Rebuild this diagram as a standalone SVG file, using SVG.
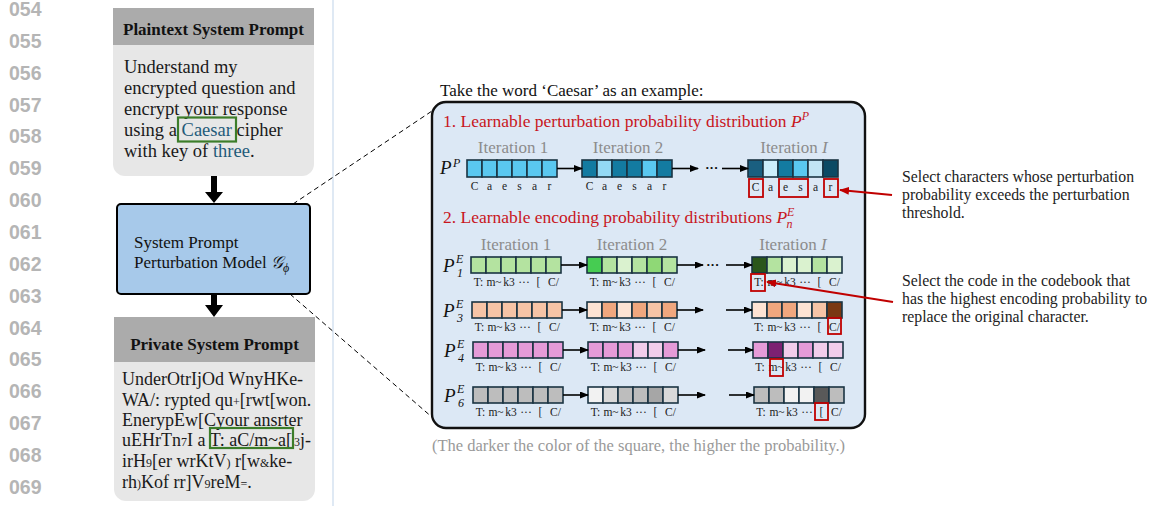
<svg xmlns="http://www.w3.org/2000/svg" width="1155" height="506" viewBox="0 0 1155 506">
<style>
.ln{font-family:"Liberation Sans",Arial,sans-serif;font-weight:bold;font-size:19.5px;fill:#b5b5b5}
.ser{font-family:"Liberation Serif","Times New Roman",serif}
.hdr{font-family:"Liberation Serif","Times New Roman",serif;font-weight:bold;font-size:17px;fill:#111;text-anchor:middle}
.body{font-family:"Liberation Serif","Times New Roman",serif;font-size:18.5px;fill:#1a1a1a}
.pbody{font-family:"Liberation Serif","Times New Roman",serif;font-size:18px;fill:#1a1a1a}
.tl{fill:#1f5b7a}
.sm{font-size:12px}
.it{font-family:"Liberation Serif","Times New Roman",serif;font-size:17px;fill:#8c8c8c;text-anchor:middle}
.red{font-family:"Liberation Serif","Times New Roman",serif;font-size:17.5px;fill:#c8161d}
.c{stroke:#1b3443;stroke-width:1.6}
.lab{font-family:"Liberation Serif","Times New Roman",serif;font-size:11.5px;fill:#222;text-anchor:middle}
.rb{fill:none;stroke:#c00000;stroke-width:1.8}
.arr{stroke:#000;stroke-width:1.6;fill:none;marker-end:url(#ah)}
.mP{font-family:"Liberation Serif","Times New Roman",serif;font-style:italic;fill:#111}
.note{font-family:"Liberation Serif","Times New Roman",serif;font-size:15.8px;fill:#222}
.dots{font-family:"Liberation Sans",Arial,sans-serif;font-weight:bold;font-size:13px;fill:#111;text-anchor:middle}
</style>
<defs>
<marker id="ah" markerWidth="9" markerHeight="8" refX="8" refY="3.5" orient="auto" markerUnits="userSpaceOnUse"><path d="M0,0 L9,3.5 L0,7 z" fill="#000"/></marker>
<marker id="rah" markerWidth="10" markerHeight="9" refX="9" refY="4" orient="auto" markerUnits="userSpaceOnUse"><path d="M0,0 L10,4 L0,8 z" fill="#c00000"/></marker>
</defs>
<rect width="1155" height="506" fill="#fff"/>

<!-- line numbers -->
<g id="linenumbers">
<text class="ln" x="9" y="16">054</text>
<text class="ln" x="9" y="47.9">055</text>
<text class="ln" x="9" y="79.7">056</text>
<text class="ln" x="9" y="111.6">057</text>
<text class="ln" x="9" y="143.4">058</text>
<text class="ln" x="9" y="175.3">059</text>
<text class="ln" x="9" y="207.1">060</text>
<text class="ln" x="9" y="239">061</text>
<text class="ln" x="9" y="270.8">062</text>
<text class="ln" x="9" y="302.7">063</text>
<text class="ln" x="9" y="334.5">064</text>
<text class="ln" x="9" y="366.4">065</text>
<text class="ln" x="9" y="398.2">066</text>
<text class="ln" x="9" y="430.1">067</text>
<text class="ln" x="9" y="461.9">068</text>
<text class="ln" x="9" y="493.8">069</text>
</g>
<line x1="333" y1="0" x2="333" y2="506" stroke="#d5e2f1" stroke-width="1.5"/>

<!-- Plaintext system prompt -->
<g id="plaintext">
<path d="M113,45 H314 V164 a12,12 0 0 1 -12,12 H125 a12,12 0 0 1 -12,-12 Z" fill="#e7e7e7"/>
<rect x="113" y="8" width="201" height="37" fill="#ababab"/>
<text class="hdr" x="213.5" y="35">Plaintext System Prompt</text>
<text class="body" x="124" y="72.5">Understand my</text>
<text class="body" x="124" y="93.5">encrypted question and</text>
<text class="body" x="124" y="114.5">encrypt your response</text>
<text class="body" x="124" y="135.5">using a <tspan class="tl">Caesar</tspan> cipher</text>
<text class="body" x="124" y="156.5">with key of <tspan class="tl">three</tspan>.</text>
<rect x="178" y="117.5" width="58" height="24" fill="none" stroke="#3c7d2a" stroke-width="2.2"/>
</g>

<!-- connectors left -->
<g id="connectors-left">
<path d="M211,176 H217 V192 H223 L214,203 L205,192 H211 Z" fill="#000"/>
<path d="M211,294 H217 V305 H223 L214,317 L205,305 H211 Z" fill="#000"/>
<line x1="293" y1="204" x2="432" y2="111" stroke="#000" stroke-width="1" stroke-dasharray="5,3.5"/>
<line x1="290" y1="294" x2="433" y2="418" stroke="#000" stroke-width="1" stroke-dasharray="5,3.5"/>
</g>

<!-- model -->
<g id="model">
<rect x="117" y="204" width="193" height="90" rx="4" fill="#a7c9ea" stroke="#000" stroke-width="2"/>
<text class="ser" x="134" y="248" font-size="17" fill="#111">System Prompt</text>
<text class="ser" x="134" y="268" font-size="17" fill="#111">Perturbation Model <tspan font-family="'DejaVu Serif','Liberation Serif',serif" font-style="italic">𝒢</tspan><tspan font-style="italic" font-size="12" dy="4">ϕ</tspan></text>
</g>

<!-- Private system prompt -->
<g id="private">
<path d="M114,362 H315 V489 a12,12 0 0 1 -12,12 H126 a12,12 0 0 1 -12,-12 Z" fill="#e7e7e7"/>
<rect x="114" y="317" width="201" height="45" fill="#ababab"/>
<text class="hdr" x="214.5" y="350">Private System Prompt</text>
<text class="pbody" x="122" y="385">UnderOtrIjOd WnyHKe-</text>
<text class="pbody" x="122" y="405.5">WA/: rypted qu<tspan class="sm">+</tspan>[rwt[won.</text>
<text class="pbody" x="122" y="426">EnerypEw[Cyour ansrter</text>
<text class="pbody" x="122" y="446">uEHrTn<tspan class="sm">7</tspan>I a T: aC/m~a[<tspan class="sm" dx="2">3</tspan>j-</text>
<text class="pbody" x="122" y="467">irH<tspan class="sm">9</tspan>[er wrKtV<tspan class="sm">)</tspan> r[w<tspan class="sm">&amp;</tspan>ke-</text>
<text class="pbody" x="122" y="488">rh<tspan class="sm">)</tspan>Kof rr]V<tspan class="sm">9</tspan>reM<tspan class="sm">=</tspan>.</text>
<rect x="210" y="428" width="83" height="20" fill="none" stroke="#3c7d2a" stroke-width="2.2"/>
</g>

<!-- right panel -->
<g id="example-panel">
<text class="ser" x="440" y="96" font-size="17" fill="#111">Take the word ‘Caesar’ as an example:</text>
<rect x="432" y="102" width="433" height="326" rx="14" fill="#dce8f5" stroke="#111" stroke-width="2.4"/>
<text class="red" x="443" y="127">1. Learnable perturbation probability distribution <tspan font-style="italic">P</tspan><tspan font-style="italic" font-size="12" dy="-7">P</tspan></text>
<text class="it" x="513" y="153">Iteration 1</text>
<text class="it" x="628" y="153">Iteration 2</text>
<text class="it" x="794" y="153">Iteration <tspan font-style="italic">I</tspan></text>

<text class="red" x="443" y="223">2. Learnable encoding probability distributions <tspan font-style="italic">P</tspan><tspan font-style="italic" font-size="12" dy="-7">E</tspan><tspan font-style="italic" font-size="12" dx="-8" dy="12">n</tspan></text>
<text class="it" x="516" y="250">Iteration 1</text>
<text class="it" x="632" y="250">Iteration 2</text>
<text class="it" x="793" y="250">Iteration <tspan font-style="italic">I</tspan></text>
</g>

<!-- P^P row -->
<g id="row-PP">
<text class="mP" x="440" y="174" font-size="19">P</text><text class="mP" x="453" y="167" font-size="12">P</text>
<rect class="c" x="467" y="160" width="15" height="17" fill="#5ac8f0"/>
<rect class="c" x="482" y="160" width="15" height="17" fill="#5ac8f0"/>
<rect class="c" x="497" y="160" width="15" height="17" fill="#5ac8f0"/>
<rect class="c" x="512" y="160" width="15" height="17" fill="#5ac8f0"/>
<rect class="c" x="527" y="160" width="15" height="17" fill="#5ac8f0"/>
<rect class="c" x="542" y="160" width="15" height="17" fill="#5ac8f0"/>
<rect class="c" x="582" y="160" width="15" height="17" fill="#137ba1"/>
<rect class="c" x="597" y="160" width="15" height="17" fill="#93d9f4"/>
<rect class="c" x="612" y="160" width="15" height="17" fill="#137ba1"/>
<rect class="c" x="627" y="160" width="15" height="17" fill="#137ba1"/>
<rect class="c" x="642" y="160" width="15" height="17" fill="#5ac8f0"/>
<rect class="c" x="657" y="160" width="15" height="17" fill="#137ba1"/>
<rect class="c" x="748" y="160" width="15" height="17" fill="#1a5f80"/>
<rect class="c" x="763" y="160" width="15" height="17" fill="#cdeefb"/>
<rect class="c" x="778" y="160" width="15" height="17" fill="#137ba1"/>
<rect class="c" x="793" y="160" width="15" height="17" fill="#5ac8f0"/>
<rect class="c" x="808" y="160" width="15" height="17" fill="#c2e5f4"/>
<rect class="c" x="823" y="160" width="15" height="17" fill="#0b4a64"/>
<g class="lab">
<text x="474.5" y="190">C</text><text x="489.5" y="190">a</text><text x="504.5" y="190">e</text><text x="519.5" y="190">s</text><text x="534.5" y="190">a</text><text x="549.5" y="190">r</text>
<text x="589.5" y="190">C</text><text x="604.5" y="190">a</text><text x="619.5" y="190">e</text><text x="634.5" y="190">s</text><text x="649.5" y="190">a</text><text x="664.5" y="190">r</text>
<text x="755.5" y="191">C</text><text x="770.5" y="191">a</text><text x="785.5" y="191">e</text><text x="800.5" y="191">s</text><text x="815.5" y="191">a</text><text x="830.5" y="191">r</text>
</g>
<rect class="rb" x="749" y="179" width="14" height="18"/>
<rect class="rb" x="779" y="179" width="29" height="18"/>
<rect class="rb" x="824" y="179" width="14" height="18"/>
<text class="dots" x="712" y="172">···</text>
</g>

<!-- P1E row -->
<g id="row-P1E">
<text class="mP" x="443" y="271.5" font-size="19">P</text><text class="mP" x="456" y="263" font-size="12">E</text><text class="mP" x="457" y="277" font-size="12">1</text>
<rect class="c" x="471" y="257" width="15" height="16" fill="#b4e3a0"/>
<rect class="c" x="486" y="257" width="15" height="16" fill="#b4e3a0"/>
<rect class="c" x="501" y="257" width="15" height="16" fill="#b4e3a0"/>
<rect class="c" x="516" y="257" width="15" height="16" fill="#b4e3a0"/>
<rect class="c" x="531" y="257" width="15" height="16" fill="#b4e3a0"/>
<rect class="c" x="546" y="257" width="15" height="16" fill="#b4e3a0"/>
<rect class="c" x="587" y="257" width="15" height="16" fill="#46cc52"/>
<rect class="c" x="602" y="257" width="15" height="16" fill="#b4e3a0"/>
<rect class="c" x="617" y="257" width="15" height="16" fill="#daf2cf"/>
<rect class="c" x="632" y="257" width="15" height="16" fill="#b4e3a0"/>
<rect class="c" x="647" y="257" width="15" height="16" fill="#8fd876"/>
<rect class="c" x="662" y="257" width="15" height="16" fill="#b4e3a0"/>
<rect class="c" x="752" y="257" width="15" height="16" fill="#2a561b"/>
<rect class="c" x="767" y="257" width="15" height="16" fill="#b4e3a0"/>
<rect class="c" x="782" y="257" width="15" height="16" fill="#daf2cf"/>
<rect class="c" x="797" y="257" width="15" height="16" fill="#daf2cf"/>
<rect class="c" x="812" y="257" width="15" height="16" fill="#b4e3a0"/>
<rect class="c" x="827" y="257" width="15" height="16" fill="#daf2cf"/>
<g class="lab">
<text x="478.5" y="285.5">T:</text><text x="494" y="285.5">m~</text><text x="509" y="285.5">k3</text><text x="524" y="285.5">···</text><text x="538.5" y="285.5">[</text><text x="553.5" y="285.5">C/</text>
<text x="594.5" y="285.5">T:</text><text x="610" y="285.5">m~</text><text x="625" y="285.5">k3</text><text x="640" y="285.5">···</text><text x="654.5" y="285.5">[</text><text x="669.5" y="285.5">C/</text>
<text x="759" y="285.5">T:</text><text x="775" y="285.5">m~</text><text x="790" y="285.5">k3</text><text x="805" y="285.5">···</text><text x="819.5" y="285.5">[</text><text x="834.5" y="285.5">C/</text>
</g>
<rect class="rb" x="751" y="274" width="14" height="17"/>
<text class="dots" x="713" y="269">···</text>
</g>

<!-- P3E row -->
<g id="row-P3E">
<text class="mP" x="443" y="316.5" font-size="19">P</text><text class="mP" x="456" y="308" font-size="12">E</text><text class="mP" x="457" y="322" font-size="12">3</text>
<rect class="c" x="472" y="302" width="15" height="16" fill="#f6c4a6"/>
<rect class="c" x="487" y="302" width="15" height="16" fill="#f6c4a6"/>
<rect class="c" x="502" y="302" width="15" height="16" fill="#f6c4a6"/>
<rect class="c" x="517" y="302" width="15" height="16" fill="#f6c4a6"/>
<rect class="c" x="532" y="302" width="15" height="16" fill="#f6c4a6"/>
<rect class="c" x="547" y="302" width="15" height="16" fill="#f6c4a6"/>
<rect class="c" x="587" y="302" width="15" height="16" fill="#fde3d3"/>
<rect class="c" x="602" y="302" width="15" height="16" fill="#f0a77e"/>
<rect class="c" x="617" y="302" width="15" height="16" fill="#fde3d3"/>
<rect class="c" x="632" y="302" width="15" height="16" fill="#f0a77e"/>
<rect class="c" x="647" y="302" width="15" height="16" fill="#f6c4a6"/>
<rect class="c" x="662" y="302" width="15" height="16" fill="#f0a77e"/>
<rect class="c" x="752" y="302" width="15" height="16" fill="#fde3d3"/>
<rect class="c" x="767" y="302" width="15" height="16" fill="#f0a77e"/>
<rect class="c" x="782" y="302" width="15" height="16" fill="#f0a77e"/>
<rect class="c" x="797" y="302" width="15" height="16" fill="#fde3d3"/>
<rect class="c" x="812" y="302" width="15" height="16" fill="#f6c4a6"/>
<rect class="c" x="827" y="302" width="15" height="16" fill="#7a3812"/>
<g class="lab">
<text x="479.5" y="330.5">T:</text><text x="495" y="330.5">m~</text><text x="510" y="330.5">k3</text><text x="525" y="330.5">···</text><text x="539.5" y="330.5">[</text><text x="554.5" y="330.5">C/</text>
<text x="594.5" y="330.5">T:</text><text x="610" y="330.5">m~</text><text x="625" y="330.5">k3</text><text x="640" y="330.5">···</text><text x="654.5" y="330.5">[</text><text x="669.5" y="330.5">C/</text>
<text x="759" y="330.5">T:</text><text x="775" y="330.5">m~</text><text x="790" y="330.5">k3</text><text x="805" y="330.5">···</text><text x="819.5" y="330.5">[</text><text x="834.5" y="330.5">C/</text>
</g>
<rect class="rb" x="828" y="318" width="13" height="16"/>
</g>

<!-- P4E row -->
<g id="row-P4E">
<text class="mP" x="444" y="356.5" font-size="19">P</text><text class="mP" x="457" y="348" font-size="12">E</text><text class="mP" x="458" y="362" font-size="12">4</text>
<rect class="c" x="473" y="342" width="15" height="16" fill="#e59bd8"/>
<rect class="c" x="488" y="342" width="15" height="16" fill="#e59bd8"/>
<rect class="c" x="503" y="342" width="15" height="16" fill="#e59bd8"/>
<rect class="c" x="518" y="342" width="15" height="16" fill="#e59bd8"/>
<rect class="c" x="533" y="342" width="15" height="16" fill="#e59bd8"/>
<rect class="c" x="548" y="342" width="15" height="16" fill="#e59bd8"/>
<rect class="c" x="588" y="342" width="15" height="16" fill="#e59bd8"/>
<rect class="c" x="603" y="342" width="15" height="16" fill="#e59bd8"/>
<rect class="c" x="618" y="342" width="15" height="16" fill="#e59bd8"/>
<rect class="c" x="633" y="342" width="15" height="16" fill="#f1cdeb"/>
<rect class="c" x="648" y="342" width="15" height="16" fill="#f1cdeb"/>
<rect class="c" x="663" y="342" width="15" height="16" fill="#e59bd8"/>
<rect class="c" x="753" y="342" width="15" height="16" fill="#e59bd8"/>
<rect class="c" x="768" y="342" width="15" height="16" fill="#7c2172"/>
<rect class="c" x="783" y="342" width="15" height="16" fill="#f1cdeb"/>
<rect class="c" x="798" y="342" width="15" height="16" fill="#e59bd8"/>
<rect class="c" x="813" y="342" width="15" height="16" fill="#f1cdeb"/>
<rect class="c" x="828" y="342" width="15" height="16" fill="#f1cdeb"/>
<g class="lab">
<text x="480.5" y="371">T:</text><text x="496" y="371">m~</text><text x="511" y="371">k3</text><text x="526" y="371">···</text><text x="540.5" y="371">[</text><text x="555.5" y="371">C/</text>
<text x="595.5" y="371">T:</text><text x="611" y="371">m~</text><text x="626" y="371">k3</text><text x="641" y="371">···</text><text x="655.5" y="371">[</text><text x="670.5" y="371">C/</text>
<text x="760" y="371">T:</text><text x="776" y="371">m~</text><text x="791" y="371">k3</text><text x="806" y="371">···</text><text x="820.5" y="371">[</text><text x="835.5" y="371">C/</text>
</g>
<rect class="rb" x="770" y="359" width="13" height="17"/>
</g>

<!-- P6E row -->
<g id="row-P6E">
<text class="mP" x="444" y="401.5" font-size="19">P</text><text class="mP" x="457" y="393" font-size="12">E</text><text class="mP" x="458" y="407" font-size="12">6</text>
<rect class="c" x="473" y="387" width="15" height="16" fill="#bdbdbd"/>
<rect class="c" x="488" y="387" width="15" height="16" fill="#bdbdbd"/>
<rect class="c" x="503" y="387" width="15" height="16" fill="#bdbdbd"/>
<rect class="c" x="518" y="387" width="15" height="16" fill="#bdbdbd"/>
<rect class="c" x="533" y="387" width="15" height="16" fill="#bdbdbd"/>
<rect class="c" x="548" y="387" width="15" height="16" fill="#bdbdbd"/>
<rect class="c" x="588" y="387" width="15" height="16" fill="#f2f2f2"/>
<rect class="c" x="603" y="387" width="15" height="16" fill="#d9d9d9"/>
<rect class="c" x="618" y="387" width="15" height="16" fill="#bdbdbd"/>
<rect class="c" x="633" y="387" width="15" height="16" fill="#bdbdbd"/>
<rect class="c" x="648" y="387" width="15" height="16" fill="#a6a6a6"/>
<rect class="c" x="663" y="387" width="15" height="16" fill="#d9d9d9"/>
<rect class="c" x="754" y="387" width="15" height="16" fill="#bdbdbd"/>
<rect class="c" x="769" y="387" width="15" height="16" fill="#bdbdbd"/>
<rect class="c" x="784" y="387" width="15" height="16" fill="#f2f2f2"/>
<rect class="c" x="799" y="387" width="15" height="16" fill="#f2f2f2"/>
<rect class="c" x="814" y="387" width="15" height="16" fill="#595959"/>
<rect class="c" x="829" y="387" width="15" height="16" fill="#bdbdbd"/>
<g class="lab">
<text x="480.5" y="415.5">T:</text><text x="496" y="415.5">m~</text><text x="511" y="415.5">k3</text><text x="526" y="415.5">···</text><text x="540.5" y="415.5">[</text><text x="555.5" y="415.5">C/</text>
<text x="595.5" y="415.5">T:</text><text x="611" y="415.5">m~</text><text x="626" y="415.5">k3</text><text x="641" y="415.5">···</text><text x="655.5" y="415.5">[</text><text x="670.5" y="415.5">C/</text>
<text x="761" y="415.5">T:</text><text x="777" y="415.5">m~</text><text x="792" y="415.5">k3</text><text x="807" y="415.5">···</text><text x="821.5" y="415.5">[</text><text x="836.5" y="415.5">C/</text>
</g>
<rect class="rb" x="815" y="403" width="13" height="17"/>
</g>

<!-- connectors in panel -->
<g id="connectors">
<line class="arr" x1="557" y1="168.5" x2="582" y2="168.5"/>
<line class="arr" x1="672" y1="168.5" x2="698" y2="168.5"/>
<line class="arr" x1="722" y1="168.5" x2="748" y2="168.5"/>
<line class="arr" x1="561" y1="265" x2="587" y2="265"/>
<line class="arr" x1="677" y1="265" x2="703" y2="265"/>
<line class="arr" x1="726" y1="265" x2="752" y2="265"/>
<line class="arr" x1="562" y1="310" x2="587" y2="310"/>
<line class="arr" x1="677" y1="310" x2="703" y2="310"/>
<line class="arr" x1="726" y1="310" x2="752" y2="310"/>
<line class="arr" x1="563" y1="350" x2="588" y2="350"/>
<line class="arr" x1="678" y1="350" x2="705" y2="350"/>
<line class="arr" x1="728" y1="350" x2="753" y2="350"/>
<line class="arr" x1="563" y1="395" x2="588" y2="395"/>
<line class="arr" x1="678" y1="395" x2="705" y2="395"/>
<line class="arr" x1="729" y1="395" x2="754" y2="395"/>
<line x1="892" y1="195" x2="840" y2="190" stroke="#c00000" stroke-width="2" marker-end="url(#rah)"/>
<line x1="893" y1="302" x2="767" y2="282" stroke="#c00000" stroke-width="2" marker-end="url(#rah)"/>
</g>

<!-- annotations -->
<g id="notes">
<text class="note" x="902" y="182">Select characters whose perturbation</text>
<text class="note" x="902" y="200">probability exceeds the perturbation</text>
<text class="note" x="902" y="218">threshold.</text>
<text class="note" x="902" y="286">Select the code in the codebook that</text>
<text class="note" x="902" y="304">has the highest encoding probability to</text>
<text class="note" x="902" y="322">replace the original character.</text>
<text class="ser" x="432" y="451" font-size="16.5" fill="#999">(The darker the color of the square, the higher the probability.)</text>
</g>
</svg>
